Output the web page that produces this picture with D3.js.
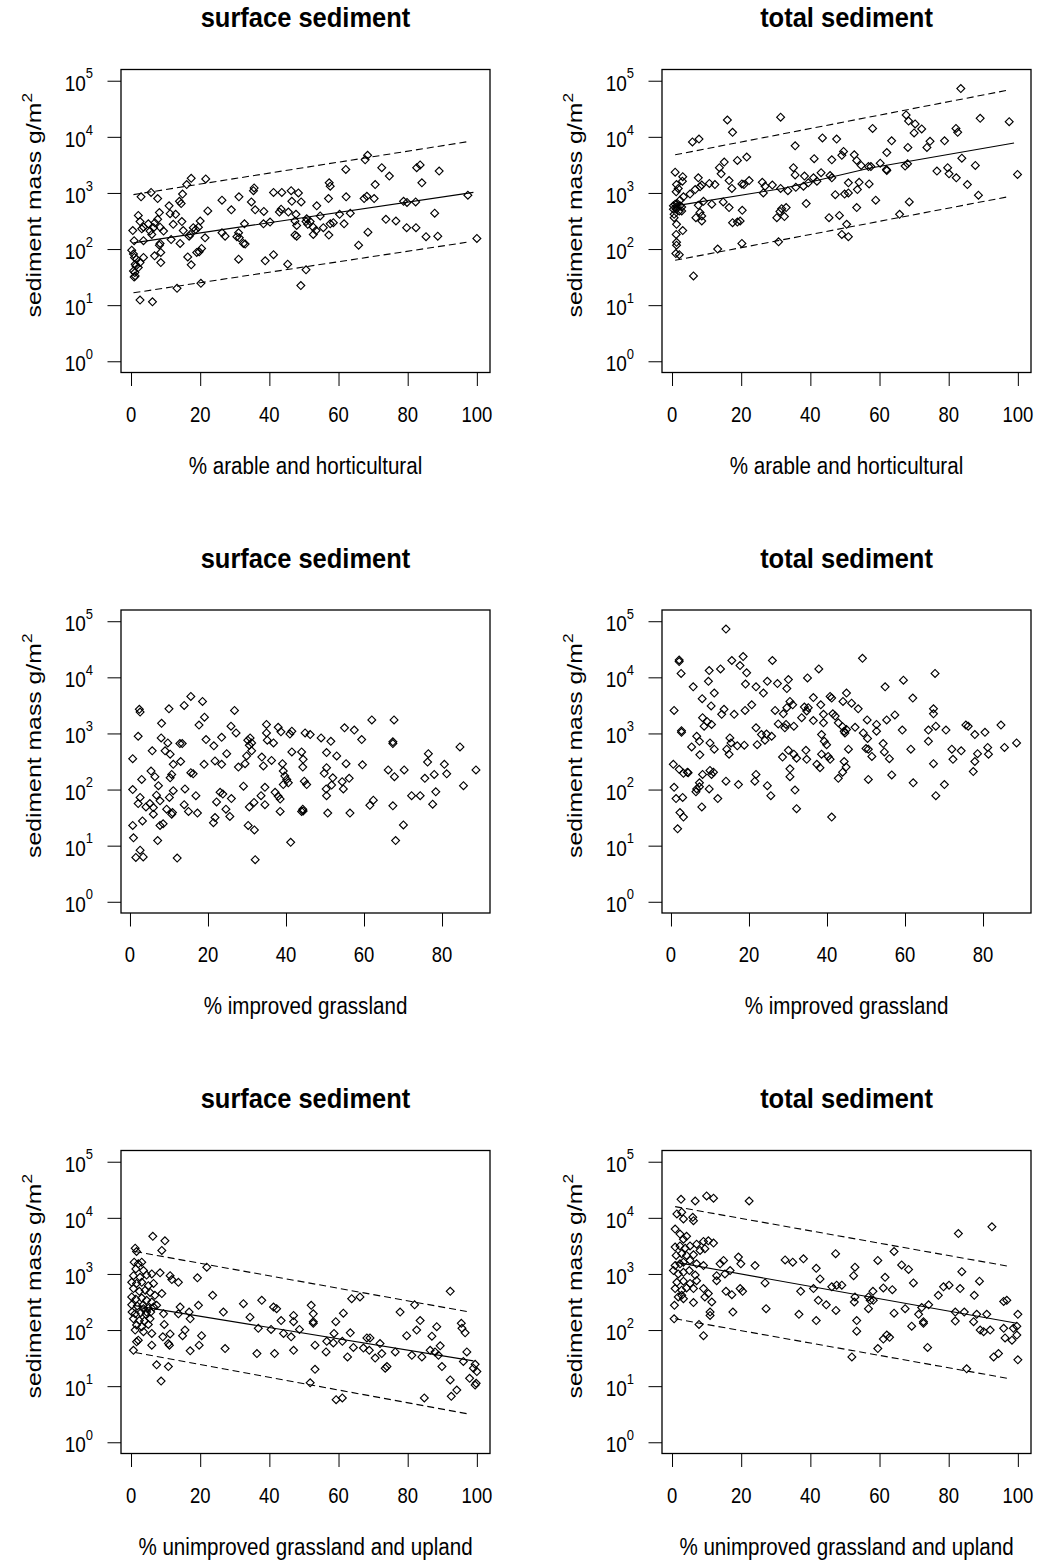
<!DOCTYPE html>
<html lang="en">
<head>
<meta charset="UTF-8" />
<title>Sediment mass and land cover</title>
<script src="https://d3js.org/d3.v7.min.js"></script>
<style>
  body { margin: 0; background: #fff; }
  svg { display: block; font-family: "Liberation Sans", Arial, sans-serif; }
  text { fill: #000; }
  .title { font-weight: bold; font-size: 25.5px; }
  .tick line { stroke: #000; stroke-width: 1; }
</style>
</head>
<body>
<script>
// every point is [% land cover, log10 sediment mass in g/m2]
const surfArable = [[68.4,3.67],[67.7,3.59],[62.1,3.42],[72.5,3.45],[74.7,3.30],[82.6,3.45],[83.6,3.50],[89.1,3.39],[84.1,3.18],[70.6,3.15],[57.3,3.18],[57.6,3.12],[17.4,3.26],[21.6,3.25],[16.1,3.15],[14.9,2.98],[5.8,3.01],[2.9,2.93],[7.7,2.90],[35.6,3.09],[35.4,3.04],[41.2,3.01],[43.6,3.01],[46.3,3.04],[48.4,3.00],[31.2,2.93],[34.8,2.84],[26.3,2.87],[29.0,2.70],[46.5,2.85],[49.2,2.84],[57.1,2.90],[62.2,2.93],[67.4,2.90],[68.2,2.94],[70.3,2.90],[53.7,2.77],[14.0,2.85],[14.5,2.81],[11.0,2.77],[12.9,2.62],[8.2,2.65],[11.3,2.63],[22.2,2.68],[35.9,2.70],[38.4,2.67],[43.4,2.71],[42.9,2.66],[45.5,2.66],[47.7,2.62],[50.8,2.54],[51.8,2.49],[54.7,2.59],[60.3,2.62],[63.4,2.64],[78.8,2.85],[79.8,2.83],[82.3,2.84],[97.4,2.96],[87.8,2.64],[2.1,2.60],[2.6,2.49],[3.6,2.39],[5.0,2.45],[6.9,2.47],[8.4,2.39],[7.7,2.53],[0.5,2.33],[3.1,2.36],[5.5,2.32],[6.5,2.38],[9.4,2.32],[12.2,2.44],[14.7,2.49],[20.0,2.50],[18.0,2.38],[19.5,2.39],[32.8,2.45],[38.3,2.45],[40.2,2.48],[47.4,2.50],[47.9,2.42],[50.6,2.49],[51.1,2.44],[52.7,2.39],[53.5,2.33],[55.6,2.38],[57.6,2.45],[58.5,2.47],[61.6,2.45],[73.7,2.53],[76.6,2.50],[79.7,2.38],[82.4,2.38],[85.3,2.22],[88.7,2.23],[100,2.19],[68.5,2.30],[65.8,2.07],[57.2,2.25],[52.7,2.26],[47.4,2.25],[47.9,2.23],[31.1,2.29],[30.6,2.22],[31.3,2.20],[32.5,2.10],[33.0,2.09],[26.3,2.29],[27.2,2.23],[21.4,2.20],[15.1,2.33],[16.8,2.23],[11.6,2.17],[14.2,2.10],[0.9,2.15],[3.6,2.15],[8.4,2.10],[8.2,2.07],[6.0,2.26],[17.1,2.26],[18.7,2.35],[0.2,1.98],[0.7,1.91],[1.6,1.82],[1.2,1.73],[0.7,1.61],[1.2,1.52],[2.1,1.67],[2.6,1.76],[3.6,1.85],[6.8,1.88],[8.6,1.94],[8.6,1.76],[1.0,1.85],[1.4,1.70],[1.1,1.58],[0.9,1.50],[16.4,1.86],[17.4,1.72],[19.0,1.94],[19.7,1.95],[20.4,2.01],[31.1,1.82],[38.8,1.79],[41.2,1.90],[45.3,1.73],[50.6,1.63],[49.1,1.35],[13.3,1.30],[20.2,1.39],[2.6,1.09],[6.2,1.06]];

const totArable = [[83.5,4.86],[16.0,4.30],[31.4,4.35],[89.1,4.33],[97.5,4.27],[67.7,4.39],[68.4,4.28],[70.3,4.23],[72.2,4.14],[70.0,4.07],[58.0,4.15],[82.1,4.15],[82.6,4.08],[17.5,4.08],[5.9,3.91],[7.8,3.96],[43.5,3.98],[47.6,3.96],[35.6,3.84],[63.5,3.93],[78.8,3.93],[74.6,3.92],[73.7,3.81],[68.2,3.81],[62.1,3.72],[49.6,3.74],[49.1,3.67],[52.7,3.68],[21.6,3.64],[18.9,3.58],[41.1,3.61],[46.2,3.59],[15.1,3.55],[53.4,3.58],[54.7,3.49],[56.8,3.47],[57.5,3.47],[60.2,3.53],[62.1,3.40],[62.0,3.42],[67.4,3.48],[68.1,3.52],[83.8,3.62],[87.7,3.49],[99.9,3.33],[76.6,3.39],[79.7,3.45],[80.1,3.34],[82.2,3.27],[85.4,3.15],[88.6,2.96],[13.7,3.45],[14.2,3.34],[35.1,3.45],[35.6,3.32],[43.1,3.36],[45.7,3.31],[46.2,3.27],[38.3,3.30],[40.9,3.27],[41.9,3.21],[39.4,3.18],[38.0,3.12],[35.8,3.10],[33.5,3.04],[31.4,3.08],[26.1,3.19],[26.9,3.12],[29.0,3.14],[26.4,3.00],[22.3,3.22],[20.2,3.16],[20.8,3.15],[16.5,3.22],[17.3,3.08],[12.4,3.15],[10.8,3.17],[7.6,3.27],[8.6,3.14],[8.1,3.11],[6.7,3.06],[5.2,2.98],[0.9,3.37],[3.1,3.29],[3.0,3.21],[1.3,3.15],[1.8,3.08],[1.2,3.02],[3.3,2.93],[2.3,2.87],[0.9,2.80],[1.3,2.75],[0.4,2.71],[2.1,2.68],[2.8,2.75],[0.6,2.62],[0.6,2.56],[1.3,2.44],[3.1,2.33],[1.2,2.26],[1.3,2.12],[1.3,2.07],[1.1,1.92],[2.1,1.90],[7.6,2.78],[8.1,2.65],[8.6,2.59],[8.6,2.50],[6.9,2.56],[9.1,2.85],[11.5,2.80],[14.8,2.84],[16.5,2.74],[17.5,2.47],[18.9,2.48],[19.7,2.50],[20.3,2.69],[31.2,2.67],[31.7,2.72],[33.0,2.74],[30.3,2.56],[32.5,2.58],[38.8,2.81],[45.4,2.56],[48.4,2.60],[50.5,2.44],[49.1,2.26],[51.0,2.22],[47.2,2.97],[49.9,2.98],[51.0,3.00],[51.0,3.18],[54.1,3.19],[57.0,3.16],[53.6,3.06],[53.4,2.74],[58.9,2.87],[68.6,2.84],[65.8,2.62],[13.2,2.00],[20.2,2.10],[30.8,2.13],[6.2,1.52],[1.5,2.81],[2.3,2.77],[1.2,2.71],[2.8,2.68],[0.4,2.77]];

const surfImproved = [[15.6,3.66],[18.6,3.57],[13.9,3.50],[10.0,3.44],[2.4,3.43],[2.6,3.38],[26.8,3.41],[19.1,3.29],[17.7,3.15],[8.1,3.18],[62.0,3.24],[67.7,3.24],[55.0,3.10],[57.5,3.06],[59.4,2.89],[35.0,3.16],[38.0,3.11],[38.7,3.03],[41.5,3.04],[41.0,2.99],[25.9,3.13],[27.2,3.01],[44.9,3.01],[46.2,2.98],[49.0,2.92],[51.5,2.86],[35.0,3.01],[35.2,2.88],[36.8,2.83],[30.8,2.92],[30.2,2.88],[31.2,2.83],[30.6,2.79],[2.1,2.95],[8.0,2.92],[9.7,2.83],[12.8,2.82],[13.4,2.82],[19.5,2.89],[21.5,2.78],[23.5,2.93],[67.4,2.82],[67.4,2.85],[84.6,2.76],[76.5,2.64],[76.3,2.49],[80.6,2.45],[81.2,2.28],[75.6,2.20],[78.0,2.27],[88.7,2.35],[85.5,2.07],[78.4,1.96],[5.7,2.69],[9.0,2.69],[10.3,2.63],[0.7,2.55],[11.1,2.45],[13.0,2.50],[15.6,2.30],[16.2,2.28],[19.0,2.45],[21.8,2.51],[23.5,2.45],[24.8,2.64],[27.8,2.40],[29.5,2.46],[29.9,2.60],[31.2,2.69],[34.2,2.42],[36.3,2.52],[33.8,2.58],[39.1,2.46],[39.3,2.33],[39.7,2.24],[40.2,2.18],[40.6,2.12],[39.3,2.09],[41.5,2.67],[44.0,2.67],[44.4,2.54],[44.3,2.40],[44.7,2.15],[45.3,2.09],[50.4,2.66],[53.0,2.60],[55.4,2.46],[50.4,2.39],[49.8,2.29],[59.6,2.44],[66.2,2.35],[67.8,2.23],[70.3,2.35],[52.0,2.21],[51.7,2.08],[54.4,2.14],[56.2,2.20],[54.7,2.01],[50.3,2.01],[50.4,1.89],[5.4,2.33],[3.0,2.18],[6.4,2.23],[7.3,2.07],[10.3,2.21],[10.7,2.27],[0.7,2.00],[2.6,1.86],[2.1,1.75],[4.1,1.69],[5.1,1.75],[6.0,1.68],[7.7,1.80],[6.8,1.90],[6.0,1.56],[3.2,1.44],[11.1,1.98],[10.1,1.86],[9.4,1.65],[10.7,1.56],[10.9,1.59],[14.1,2.01],[13.9,1.73],[15.0,1.61],[17.3,1.58],[16.9,1.89],[23.1,1.95],[23.8,1.92],[22.2,1.78],[21.8,1.50],[21.4,1.41],[24.6,1.65],[25.6,1.52],[26.0,1.84],[29.1,2.06],[30.6,1.69],[31.8,1.77],[34.6,2.04],[34.6,1.73],[33.6,1.89],[30.3,1.36],[31.9,1.28],[37.2,1.95],[38.5,1.83],[38.5,1.61],[38.0,1.88],[44.3,1.65],[44.4,1.62],[44.0,1.61],[50.7,1.58],[56.4,1.58],[61.5,1.72],[62.4,1.81],[67.4,1.71],[70.1,1.37],[68.1,1.09],[72.2,1.89],[74.4,1.89],[77.6,1.74],[0.7,1.36],[0.9,1.14],[2.6,0.92],[1.5,0.79],[3.4,0.80],[7.1,1.09],[7.7,1.36],[8.5,1.39],[12.1,0.78],[32.1,0.75],[41.2,1.06]];

const totImproved = [[14.1,4.86],[2.1,4.31],[2.1,4.28],[2.6,4.07],[49.1,4.34],[15.6,4.30],[18.5,4.37],[17.7,4.21],[19.4,4.08],[19.1,3.88],[26.0,4.30],[37.9,4.15],[35.0,3.99],[9.8,4.12],[12.7,4.15],[9.6,3.93],[5.7,3.83],[11.1,3.72],[67.7,4.07],[59.6,3.95],[54.9,3.83],[62.0,3.63],[21.8,3.83],[23.7,3.72],[24.7,3.93],[27.3,3.89],[29.7,3.80],[30.1,3.96],[8.0,3.62],[10.3,3.49],[8.1,3.28],[9.3,3.21],[10.4,3.16],[8.5,3.13],[0.8,3.41],[20.7,3.51],[19.0,3.41],[16.2,3.34],[13.6,3.43],[13.0,3.34],[36.5,3.64],[38.4,3.51],[41.2,3.63],[40.8,3.66],[45.0,3.72],[44.1,3.57],[46.3,3.54],[48.0,3.44],[30.5,3.57],[29.7,3.46],[31.2,3.51],[26.7,3.41],[28.8,3.35],[34.2,3.47],[35.2,3.46],[34.8,3.40],[33.5,3.28],[39.1,3.34],[41.5,3.35],[42.1,3.31],[39.1,3.19],[36.5,3.23],[27.5,3.17],[29.2,3.10],[31.5,3.13],[29.5,3.16],[21.8,3.10],[23.2,2.98],[24.5,2.99],[25.8,2.95],[24.1,2.88],[22.1,2.80],[2.7,3.05],[2.7,3.02],[6.6,2.95],[7.3,2.86],[5.3,2.76],[7.4,2.62],[10.0,2.83],[11.1,2.72],[15.1,2.92],[15.4,2.83],[17.0,2.78],[18.8,2.79],[14.3,2.72],[14.9,2.63],[42.9,3.19],[44.0,3.12],[44.4,3.04],[45.0,3.07],[47.2,3.11],[44.6,3.01],[50.3,3.24],[52.7,3.16],[55.3,3.24],[57.4,3.33],[49.3,3.01],[50.4,2.91],[52.7,3.04],[59.3,3.06],[66.0,3.06],[67.3,3.44],[67.3,3.35],[67.9,3.13],[70.5,3.06],[66.0,2.86],[75.6,3.15],[76.2,3.13],[77.9,2.98],[80.5,3.02],[84.6,3.15],[88.6,2.83],[85.5,2.75],[81.2,2.75],[81.4,2.63],[78.6,2.64],[77.9,2.50],[77.5,2.32],[72.0,2.72],[74.4,2.69],[72.3,2.54],[61.5,2.72],[67.3,2.46],[70.1,2.09],[67.9,1.89],[62.1,2.12],[54.4,2.82],[54.7,2.67],[56.0,2.55],[56.6,2.26],[50.0,2.73],[50.6,2.72],[51.5,2.59],[50.6,2.18],[45.5,2.72],[44.4,2.50],[44.9,2.40],[44.0,2.31],[42.9,2.20],[38.6,2.98],[39.3,2.86],[39.9,2.80],[38.6,2.63],[40.3,2.59],[40.8,2.54],[37.4,2.45],[38.2,2.39],[30.1,2.70],[31.5,2.63],[32.2,2.56],[34.6,2.70],[34.8,2.54],[28.6,2.58],[30.5,2.37],[30.5,2.23],[31.8,1.99],[32.2,1.66],[41.2,1.51],[21.8,2.27],[21.5,2.15],[24.7,2.07],[25.6,1.89],[14.1,2.15],[17.3,2.09],[0.6,2.45],[2.1,2.36],[4.2,2.31],[3.2,2.29],[4.4,2.30],[8.1,2.27],[10.0,2.34],[10.9,2.31],[10.4,2.27],[7.3,2.12],[6.6,2.01],[6.4,1.96],[9.8,2.01],[7.3,2.05],[12.0,1.84],[7.9,1.69],[0.8,2.04],[1.3,1.84],[3.0,1.86],[2.3,1.59],[3.2,1.51],[1.7,1.30]];

const surfUnimproved = [[0.9,3.21],[2.1,3.18],[3.1,3.21],[1.4,3.09],[3.6,3.06],[0.7,2.97],[2.6,2.94],[4.5,2.98],[6.0,3.00],[0.2,2.85],[1.6,2.83],[3.1,2.85],[5.0,2.79],[6.5,2.83],[0.7,2.74],[2.4,2.69],[4.1,2.71],[5.5,2.67],[6.9,2.62],[0.2,2.59],[1.4,2.55],[3.1,2.57],[4.5,2.53],[6.0,2.50],[0.2,2.45],[1.8,2.43],[3.4,2.44],[5.0,2.39],[6.5,2.41],[0.3,2.32],[1.2,2.29],[2.8,2.31],[4.3,2.28],[5.7,2.32],[0.7,2.20],[2.4,2.17],[3.9,2.16],[5.5,2.20],[1.6,2.09],[3.1,2.06],[5.0,2.10],[1.2,2.00],[3.6,1.97],[2.1,1.82],[6.0,1.94],[0.7,1.64],[1.6,1.79],[6.0,1.73],[4.5,2.32],[3.6,2.38],[7.4,2.44],[6.3,3.67],[9.8,3.59],[8.9,3.42],[1.2,3.46],[1.6,3.40],[8.4,3.02],[11.3,2.97],[11.8,2.90],[13.7,2.85],[8.9,2.65],[9.4,2.29],[9.6,2.10],[9.2,1.88],[11.3,1.93],[10.8,1.76],[11.1,1.73],[7.4,1.38],[10.8,1.35],[8.7,1.09],[19.2,2.93],[21.9,3.12],[23.6,2.62],[19.5,2.44],[17.1,2.20],[16.8,2.32],[14.2,2.41],[13.7,2.29],[15.6,2.00],[14.9,1.90],[20.4,1.90],[19.7,1.73],[17.1,1.63],[26.7,2.32],[27.2,1.67],[32.5,2.47],[34.4,2.23],[36.8,2.03],[37.8,2.53],[36.4,1.58],[41.5,1.58],[40.5,2.01],[41.2,2.41],[42.1,2.38],[43.4,2.17],[44.1,1.94],[46.3,1.88],[47.0,2.26],[47.0,2.15],[47.0,1.64],[48.7,2.01],[52.1,2.44],[52.7,2.29],[52.7,2.15],[52.7,2.12],[53.2,1.73],[53.2,1.30],[51.8,1.06],[56.4,1.61],[56.6,1.80],[58.5,1.77],[59.2,2.15],[58.7,1.94],[61.4,2.30],[61.1,1.80],[62.6,1.52],[63.4,1.95],[63.8,2.56],[66.2,2.59],[64.3,1.69],[59.3,0.76],[61.1,0.79],[68.2,1.86],[69.1,1.86],[67.2,1.68],[68.9,1.64],[70.6,1.50],[72.0,1.76],[72.5,1.58],[73.5,1.32],[74.0,1.35],[76.4,1.61],[77.8,2.32],[79.7,1.90],[81.2,1.55],[82.0,2.45],[82.6,2.00],[83.6,2.17],[84.1,1.52],[86.5,1.64],[87.0,1.89],[87.9,1.61],[88.4,2.06],[89.4,1.72],[89.9,1.35],[88.9,1.55],[84.8,0.79],[92.3,2.69],[95.5,2.12],[95.7,2.03],[96.6,1.95],[97.1,1.61],[96.1,1.44],[92.3,1.11],[94.2,0.93],[92.6,0.82],[99.5,1.39],[100,1.26],[99.8,1.05],[99.5,1.02],[97.9,1.14],[99.0,1.32]];

const totUnimproved = [[2.6,4.33],[6.7,4.30],[10.0,4.39],[12.0,4.35],[22.3,4.30],[1.4,4.07],[2.8,4.10],[3.3,3.98],[6.0,4.01],[6.2,3.95],[0.9,3.80],[2.3,3.71],[3.3,3.62],[4.2,3.67],[82.8,3.72],[92.5,3.84],[0.9,3.48],[2.3,3.50],[3.8,3.46],[5.2,3.50],[7.1,3.53],[9.1,3.58],[10.5,3.59],[12.0,3.55],[1.2,3.33],[2.8,3.36],[4.2,3.33],[6.2,3.34],[8.1,3.42],[9.5,3.45],[0.9,3.15],[2.3,3.18],[3.3,3.21],[5.2,3.24],[7.1,3.18],[9.1,3.15],[0.4,3.06],[1.8,3.00],[3.3,3.03],[5.0,3.06],[6.7,2.98],[1.4,2.85],[3.3,2.87],[5.2,2.83],[7.1,2.88],[0.9,2.74],[2.8,2.71],[4.2,2.75],[6.2,2.74],[9.1,2.74],[1.8,2.59],[3.3,2.56],[2.8,2.62],[6.2,2.49],[9.5,2.59],[11.5,2.50],[0.7,2.44],[11.0,2.32],[11.0,2.26],[10.5,2.65],[12.9,2.88],[13.9,3.18],[14.9,3.24],[16.8,3.06],[15.3,3.00],[12.9,2.97],[0.6,2.20],[7.8,2.10],[9.1,1.90],[17.6,2.32],[15.6,2.69],[17.3,2.63],[19.7,2.74],[20.4,2.69],[19.2,3.30],[19.9,3.18],[24.0,3.15],[26.9,2.84],[27.2,2.38],[32.7,3.25],[34.9,3.21],[38.0,3.27],[47.3,3.36],[41.7,3.10],[42.8,2.91],[40.9,2.74],[42.3,2.53],[44.6,2.45],[47.4,2.35],[37.2,2.69],[36.7,2.28],[41.7,2.17],[46.2,2.77],[47.6,2.80],[49.1,2.80],[52.9,3.12],[52.5,2.97],[52.9,2.59],[52.7,2.50],[53.4,2.17],[53.4,1.98],[52.0,1.52],[56.8,2.59],[58.1,2.69],[57.3,2.53],[56.8,2.38],[59.5,3.24],[61.6,2.94],[61.1,2.75],[63.7,2.72],[64.2,2.30],[62.1,1.91],[62.9,1.87],[61.1,1.84],[59.5,1.67],[58.2,2.53],[64.2,3.40],[66.4,3.16],[68.4,3.08],[69.8,2.84],[67.4,2.38],[69.3,2.07],[71.3,2.28],[72.2,2.40],[72.7,2.15],[72.7,2.12],[74.2,2.45],[73.9,1.69],[77.0,2.62],[78.5,2.77],[80.1,2.80],[81.9,2.32],[81.9,2.16],[83.3,2.74],[83.8,3.04],[84.5,2.32],[85.2,1.31],[87.4,2.62],[88.1,2.28],[88.9,2.87],[87.2,2.15],[89.1,2.00],[90.1,1.97],[91.0,2.28],[92.0,2.00],[93.0,1.52],[94.4,1.58],[95.9,2.03],[96.3,1.86],[95.9,2.51],[96.8,2.53],[98.3,1.82],[98.7,2.03],[99.7,2.07],[99.7,1.91],[100,2.28],[100,1.47]];

// fitted line and prediction bands, [% cover, log10 mass]
const surfArableFit = [[0.7,2.11],[99,3.01]];
const surfArableUpper = [[0.7,2.97],[97,3.91]];
const surfArableLower = [[0.7,1.22],[97,2.12]];
const totArableFit = [[0.9,2.77],[32,3.08],[57,3.44],[98.9,3.89]];
const totArableUpper = [[0.9,3.68],[97,4.83]];
const totArableLower = [[0.9,1.80],[97,2.93]];
const surfUnimprovedFit = [[0.7,2.44],[99,1.45]];
const surfUnimprovedUpper = [[1.2,3.40],[97.1,2.33]];
const surfUnimprovedLower = [[1.2,1.60],[97.1,0.51]];
const totUnimprovedFit = [[0.9,3.21],[99.7,2.12]];
const totUnimprovedUpper = [[0.9,4.20],[97,3.14]];
const totUnimprovedLower = [[0.9,2.20],[97,1.14]];

const titles = ["surface sediment", "total sediment"];
const xLabels = ["% arable and horticultural", "% improved grassland", "% unimproved grassland and upland"];
const xTicksWide = [0, 20, 40, 60, 80, 100];
const xTicksNarrow = [0, 20, 40, 60, 80];
const yExponents = [0, 1, 2, 3, 4, 5];

const w = 1039;
const h = 1562;
const boxW = 369;
const boxH = 303;
const colLeft = [121, 662];
const rowTop = [69.5, 610, 1150.5];

const panels = [
  { data: surfArable, fit: surfArableFit, upper: surfArableUpper, lower: surfArableLower, xDomain: [-2.9, 103.8], ticks: xTicksWide },
  { data: totArable, fit: totArableFit, upper: totArableUpper, lower: totArableLower, xDomain: [-2.9, 103.8], ticks: xTicksWide },
  { data: surfImproved, xDomain: [-2.3, 92.3], ticks: xTicksNarrow },
  { data: totImproved, xDomain: [-2.3, 92.3], ticks: xTicksNarrow },
  { data: surfUnimproved, fit: surfUnimprovedFit, upper: surfUnimprovedUpper, lower: surfUnimprovedLower, xDomain: [-2.9, 103.8], ticks: xTicksWide },
  { data: totUnimproved, fit: totUnimprovedFit, upper: totUnimprovedUpper, lower: totUnimprovedLower, xDomain: [-2.9, 103.8], ticks: xTicksWide },
];

const svg = d3.select("body").append("svg").attr("width", w).attr("height", h);
const diamond = d3.symbol().type(d3.symbolSquare).size(31);

const drawPanel = (p, i) => {
  const col = i % 2;
  const row = Math.floor(i / 2);
  const left = colLeft[col];
  const top = rowTop[row];
  const bottom = top + boxH;
  const cx = left + boxW / 2;

  const xScale = d3.scaleLinear().domain(p.xDomain).range([left, left + boxW]);
  const yScale = d3.scaleLog().domain([Math.pow(10, -0.2), Math.pow(10, 5.2)]).range([bottom, top]);
  const g = svg.append("g");

  // title
  g.append("text")
    .attr("class", "title")
    .attr("text-anchor", "middle")
    .attr("transform", `translate(${cx}, ${top - 42.2}) scale(1, 1.05)`)
    .text(titles[col]);

  // x axis: ticks only, the box carries the line
  const xAxis = g.append("g")
    .attr("transform", `translate(0, ${bottom})`)
    .call(d3.axisBottom(xScale).tickValues(p.ticks).tickSize(13.5).tickFormat(""));
  xAxis.select(".domain").remove();
  p.ticks.forEach((t) => {
    g.append("text")
      .attr("text-anchor", "middle")
      .attr("font-size", 18.5)
      .attr("transform", `translate(${xScale(t)}, ${bottom + 49}) scale(1, 1.18)`)
      .text(t);
  });

  // y axis with 10^k labels
  const yAxis = g.append("g")
    .attr("transform", `translate(${left}, 0)`)
    .call(d3.axisLeft(yScale).tickValues(yExponents.map((k) => Math.pow(10, k))).tickSize(13.5).tickFormat(""));
  yAxis.select(".domain").remove();
  yExponents.forEach((k) => {
    const t = g.append("text")
      .attr("text-anchor", "end")
      .attr("font-size", 19)
      .attr("transform", `translate(${left - 28}, ${yScale(Math.pow(10, k)) + 10}) scale(1, 1.12)`);
    t.append("tspan").text("10");
    t.append("tspan").attr("font-size", 13).attr("dy", -11).text(k);
  });

  // axis titles
  g.append("text")
    .attr("text-anchor", "middle")
    .attr("font-size", 20.6)
    .attr("transform", `translate(${cx}, ${bottom + 101}) scale(1, 1.12)`)
    .text(xLabels[row]);
  const yl = g.append("text")
    .attr("font-size", 20)
    .attr("transform", `translate(${left - 80}, ${top + 248}) rotate(-90) scale(1.24, 1)`);
  yl.append("tspan").text("sediment mass g/m");
  yl.append("tspan").attr("font-size", 14).attr("dy", -9).text("2");

  // points
  g.append("g")
    .selectAll("path")
    .data(p.data)
    .enter()
    .append("path")
    .attr("d", diamond)
    .attr("transform", (d) => `translate(${xScale(d[0])}, ${yScale(Math.pow(10, d[1]))}) rotate(45)`)
    .attr("fill", "none")
    .attr("stroke", "#000")
    .attr("stroke-width", 1.15);

  // regression line and bands
  const line = d3.line().x((d) => xScale(d[0])).y((d) => yScale(Math.pow(10, d[1])));
  if (p.fit) {
    g.append("path").attr("d", line(p.fit)).attr("fill", "none").attr("stroke", "#000").attr("stroke-width", 1.1);
    [p.upper, p.lower].forEach((band) => {
      g.append("path")
        .attr("d", line(band))
        .attr("fill", "none")
        .attr("stroke", "#000")
        .attr("stroke-width", 1.1)
        .attr("stroke-dasharray", "7,4");
    });
  }

  // box
  g.append("rect")
    .attr("x", left)
    .attr("y", top)
    .attr("width", boxW)
    .attr("height", boxH)
    .attr("fill", "none")
    .attr("stroke", "#000")
    .attr("stroke-width", 1.3);
};

panels.forEach(drawPanel);
</script>
</body>
</html>
